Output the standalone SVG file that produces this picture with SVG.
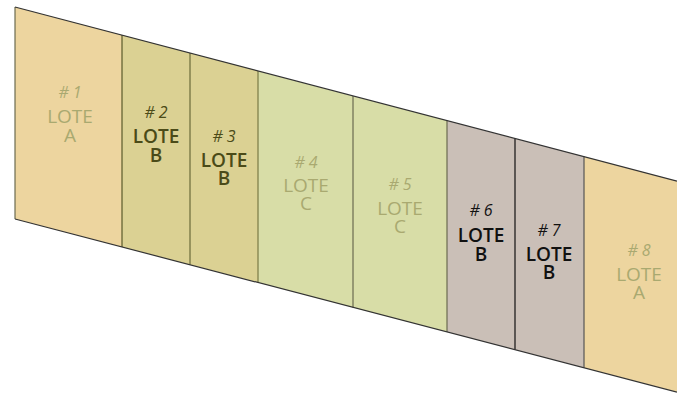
<svg xmlns="http://www.w3.org/2000/svg" width="677" height="394" viewBox="0 0 677 394">
<style>
.lot{stroke:none}
.a{fill:#EDD59F}
.b{fill:#DBD193}
.c{fill:#D8DDA7}
.d{fill:#CABFB7}
.t{font-family:"Open Sans","Liberation Sans",sans-serif;text-anchor:middle}
.h{font-size:16px;font-style:italic}
.n{font-size:19px}
.lt{fill:#A9A970}
.dk{fill:#4B4B18;font-weight:600}
.bk{fill:#111111;font-weight:600}
.div{fill:none;stroke-width:1.2}
</style>
<rect width="677" height="394" fill="#ffffff"/>
<g id="lot1"><polygon class="lot a" points="15,7 122,35.1 122,247 15,219"/>
<text class="t h lt" x="70" y="98"># 1</text><text class="t n lt" x="70" y="123">LOTE</text><text class="t n lt" x="70" y="142">A</text></g>
<g id="lot2"><polygon class="lot b" points="122,35.1 190,53 190,264.8 122,247"/>
<text class="t h dk" x="156" y="118" style="font-weight:400"># 2</text><text class="t n dk" x="156" y="143">LOTE</text><text class="t n dk" x="156" y="162">B</text></g>
<g id="lot3"><polygon class="lot b" points="190,53 258,70.9 258,282.5 190,264.8"/>
<text class="t h dk" x="224" y="142" style="font-weight:400"># 3</text><text class="t n dk" x="224" y="167">LOTE</text><text class="t n dk" x="224" y="185">B</text></g>
<g id="lot4"><polygon class="lot c" points="258,70.9 353,95.9 353,307.4 258,282.5"/>
<text class="t h lt" x="306" y="168"># 4</text><text class="t n lt" x="306" y="192">LOTE</text><text class="t n lt" x="306" y="210">C</text></g>
<g id="lot5"><polygon class="lot c" points="353,95.9 447,120.6 447,332 353,307.4"/>
<text class="t h lt" x="400" y="190"># 5</text><text class="t n lt" x="400" y="215">LOTE</text><text class="t n lt" x="400" y="233">C</text></g>
<g id="lot6"><polygon class="lot d" points="447,120.6 515,138.5 515,349.8 447,332"/>
<text class="t h bk" x="481" y="216" style="font-weight:400"># 6</text><text class="t n bk" x="481" y="242">LOTE</text><text class="t n bk" x="481" y="261">B</text></g>
<g id="lot7"><polygon class="lot d" points="515,138.5 584,156.6 584,367.8 515,349.8"/>
<text class="t h bk" x="549" y="236" style="font-weight:400"># 7</text><text class="t n bk" x="549" y="261">LOTE</text><text class="t n bk" x="549" y="279">B</text></g>
<g id="lot8"><polygon class="lot a" points="584,156.6 677,181.1 677,392.1 584,367.8"/>
<text class="t h lt" x="639" y="256"># 8</text><text class="t n lt" x="639" y="281">LOTE</text><text class="t n lt" x="639" y="299">A</text></g>
<g id="lines">
<line class="div" x1="15" y1="7" x2="15" y2="219" stroke="#6b6b50"/>
<line class="div" x1="122" y1="35.1" x2="122" y2="247" stroke="#5a5a2a"/>
<line class="div" x1="190" y1="53" x2="190" y2="264.8" stroke="#6b6b3a"/>
<line class="div" x1="258" y1="70.9" x2="258" y2="282.5" stroke="#7a7a45"/>
<line class="div" x1="353" y1="95.9" x2="353" y2="307.4" stroke="#6b6b50"/>
<line class="div" x1="447" y1="120.6" x2="447" y2="332" stroke="#6b6b50"/>
<line class="div" x1="515" y1="138.5" x2="515" y2="349.8" stroke="#111111"/>
<line class="div" x1="584" y1="156.6" x2="584" y2="367.8" stroke="#555555"/>
<polyline class="div" points="15,7 677,181.1" stroke="#333333"/>
<polyline class="div" points="15,219 677,392.1" stroke="#333333"/>
</g>
</svg>
